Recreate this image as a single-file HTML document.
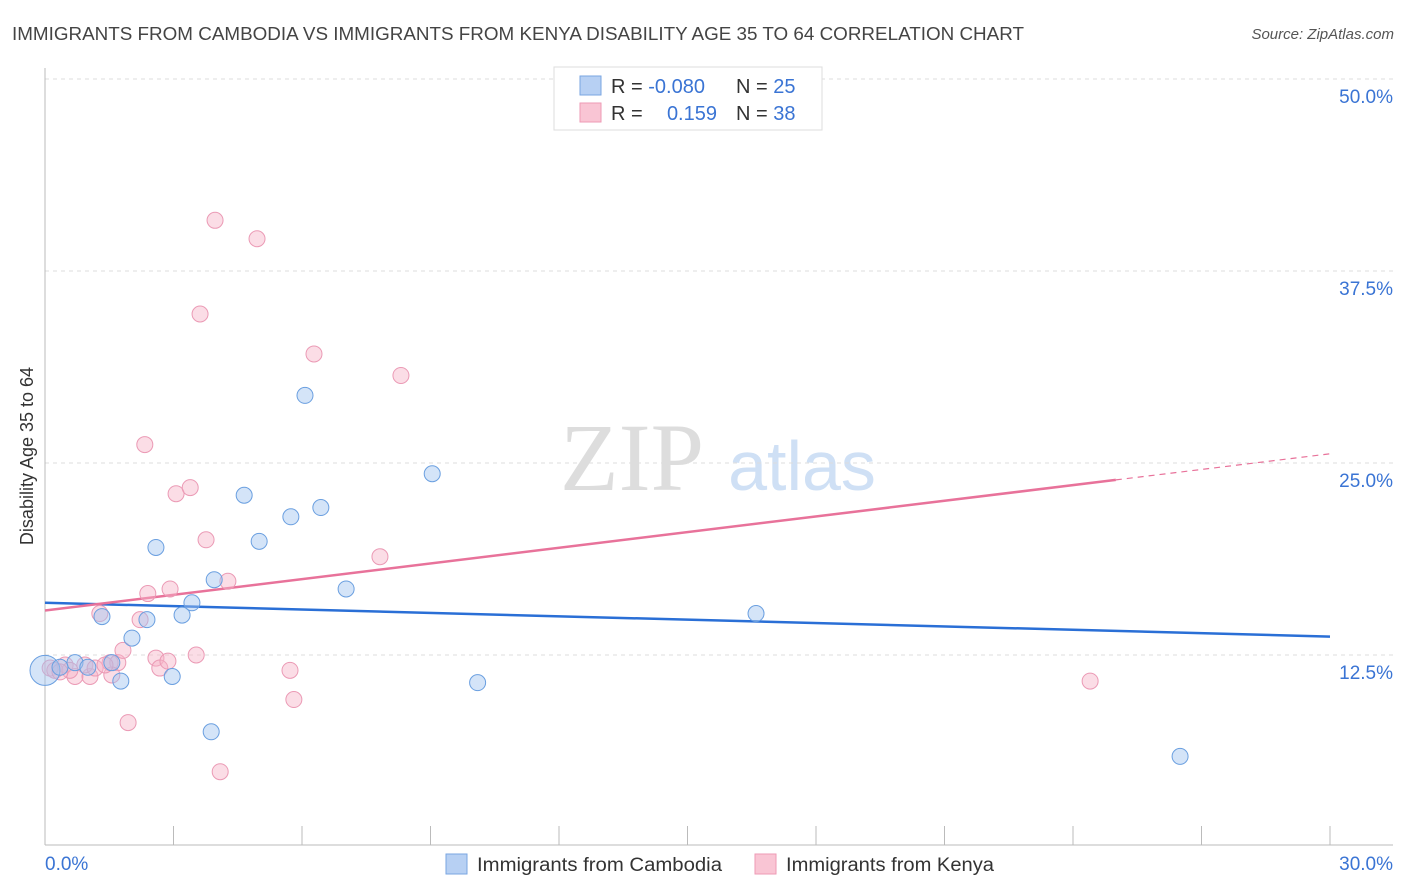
<!DOCTYPE html>
<html><head><meta charset="utf-8"><style>
body{margin:0;background:#fff;font-family:"Liberation Sans",sans-serif;}
svg{display:block}
</style></head><body>
<svg id="chart" width="1406" height="892">
<text x="12" y="40" font-size="18" fill="#444" textLength="1012" lengthAdjust="spacingAndGlyphs">IMMIGRANTS FROM CAMBODIA VS IMMIGRANTS FROM KENYA DISABILITY AGE 35 TO 64 CORRELATION CHART</text>
<text x="1394" y="39" font-size="15" fill="#555" font-style="italic" text-anchor="end">Source: ZipAtlas.com</text>
<text x="632" y="490" font-size="96" fill="#ddd" font-family="Liberation Serif,serif" text-anchor="middle">ZIP</text>
<text x="802" y="490" font-size="70" fill="#cfe0f5" text-anchor="middle">atlas</text>
<text transform="translate(33,456) rotate(-90)" font-size="18" fill="#333" text-anchor="middle">Disability Age 35 to 64</text>
<g id="grid"></g><g id="axes"></g><g id="lines"></g><g id="pts"></g>
<g>
<rect x="554" y="67" width="268" height="63" fill="#fff" stroke="#ddd"/>
<rect x="580" y="76" width="21" height="19" fill="#b7d0f3" stroke="#7aa6e2"/>
<rect x="580" y="103" width="21" height="19" fill="#f9c5d4" stroke="#ee9ab5"/>
<text x="611" y="93" font-size="20" fill="#333">R = <tspan fill="#3a74d4">-0.080</tspan></text>
<text x="736" y="93" font-size="20" fill="#333">N = <tspan fill="#3a74d4">25</tspan></text>
<text x="611" y="120" font-size="20" fill="#333">R = </text>
<text x="717" y="120" font-size="20" fill="#3a74d4" text-anchor="end">0.159</text>
<text x="736" y="120" font-size="20" fill="#333">N = <tspan fill="#3a74d4">38</tspan></text>
</g>
<g>
<rect x="446" y="854" width="21" height="20" fill="#b7d0f3" stroke="#7aa6e2"/>
<text x="477" y="871" font-size="19" fill="#333" textLength="245" lengthAdjust="spacingAndGlyphs">Immigrants from Cambodia</text>
<rect x="755" y="854" width="21" height="20" fill="#f9c5d4" stroke="#ee9ab5"/>
<text x="786" y="871" font-size="19" fill="#333" textLength="208" lengthAdjust="spacingAndGlyphs">Immigrants from Kenya</text>
</g>
</svg>
<script>
const yTicks=[12.5,25,37.5,50];
const yTickLabels=["12.5%","25.0%","37.5%","50.0%"];
const xTickLabels=["0.0%","30.0%"];
const cambodiaX=[0,0.7,1.0,1.33,1.56,1.77,2.03,2.38,2.59,2.97,3.2,3.43,3.88,3.95,4.65,5.0,5.74,6.07,6.44,7.03,9.04,10.1,16.6,26.5,0.35];
const cambodiaY=[11.5,12.0,11.7,15.0,12.0,10.8,13.6,14.8,19.5,11.1,15.1,15.9,7.5,17.4,22.9,19.9,21.5,29.4,22.1,16.8,24.3,10.7,15.2,5.9,11.7];
const kenyaX=[0.12,0.47,0.7,1.05,1.28,1.52,1.7,1.56,1.82,1.94,2.22,2.33,2.4,2.59,2.68,2.87,2.92,3.06,3.39,3.53,3.62,3.76,3.97,4.09,4.27,4.95,5.72,5.81,6.28,7.82,8.31,24.4,0.23,0.93,1.17,0.58,1.4,0.35];
const kenyaY=[11.65,11.85,11.1,11.1,15.2,12.0,12.0,11.2,12.8,8.1,14.8,26.2,16.5,12.3,11.65,12.1,16.8,23.0,23.4,12.5,34.7,20.0,40.8,4.9,17.3,39.6,11.5,9.6,32.1,18.9,30.7,10.8,11.5,11.85,11.65,11.5,11.85,11.4];
const cambodiaTrend=[15.9,13.7];
const kenyaTrend=[15.4,25.6];
const NS="http://www.w3.org/2000/svg";
const X=v=>45+v/30*1285, Y=v=>847-v/12.5*192;
function mk(tag,attrs,parent){const e=document.createElementNS(NS,tag);for(const k in attrs)e.setAttribute(k,attrs[k]);document.getElementById(parent).appendChild(e);return e;}
yTicks.forEach((t,i)=>{
 const l=mk('line',{x1:45,x2:1393,y1:Y(t),y2:Y(t),stroke:'#ddd','stroke-dasharray':'4,4'},'grid');
 
 
 const tx=mk('text',{x:1393,y:Y(t)+24,'font-size':19,fill:'#3a74d4','text-anchor':'end'},'grid');
 tx.textContent=yTickLabels[i];
 
 
});
mk('line',{x1:45,x2:45,y1:68,y2:845,stroke:'#bbb'},'axes');
mk('line',{x1:45,x2:1393,y1:845,y2:845,stroke:'#bbb'},'axes');
for(let i=0;i<=10;i++){const t=mk('line',{x1:X(i*3),x2:X(i*3),y1:826,y2:845,stroke:'#bbb'},'axes');
 
 }
[[0,'start',45],[30,'end',1393]].forEach((a,i)=>{const t=mk('text',{x:a[2],y:870,'font-size':19,fill:'#3a74d4','text-anchor':a[1]},'axes');t.textContent=xTickLabels[i];
 
 });
function pts(xs,ys,fill,stroke,name){xs.forEach((x,i)=>{const big=(x===0);const c=mk('circle',{cx:X(x),cy:Y(ys[i]),r:big?15:8,fill:fill,stroke:stroke,'stroke-width':1},'pts');
 
 });}
pts(kenyaX,kenyaY,'rgba(246,180,200,0.45)','#eb9ab5','kenya-point');
pts(cambodiaX,cambodiaY,'rgba(160,196,240,0.45)','#6a9fe0','cambodia-point');
const bl=mk('line',{x1:X(0),y1:Y(cambodiaTrend[0]),x2:X(30),y2:Y(cambodiaTrend[1]),stroke:'#2a6fd6','stroke-width':2.5},'lines');


const k25=kenyaTrend[0]+(kenyaTrend[1]-kenyaTrend[0])*25/30;
const pl=mk('line',{x1:X(0),y1:Y(kenyaTrend[0]),x2:X(25),y2:Y(k25),stroke:'#e8729a','stroke-width':2.5},'lines');


const pd=mk('line',{x1:X(25),y1:Y(k25),x2:X(30),y2:Y(kenyaTrend[1]),stroke:'#e8729a','stroke-width':1.2,'stroke-dasharray':'6,5'},'lines');


</script>
</body></html>
